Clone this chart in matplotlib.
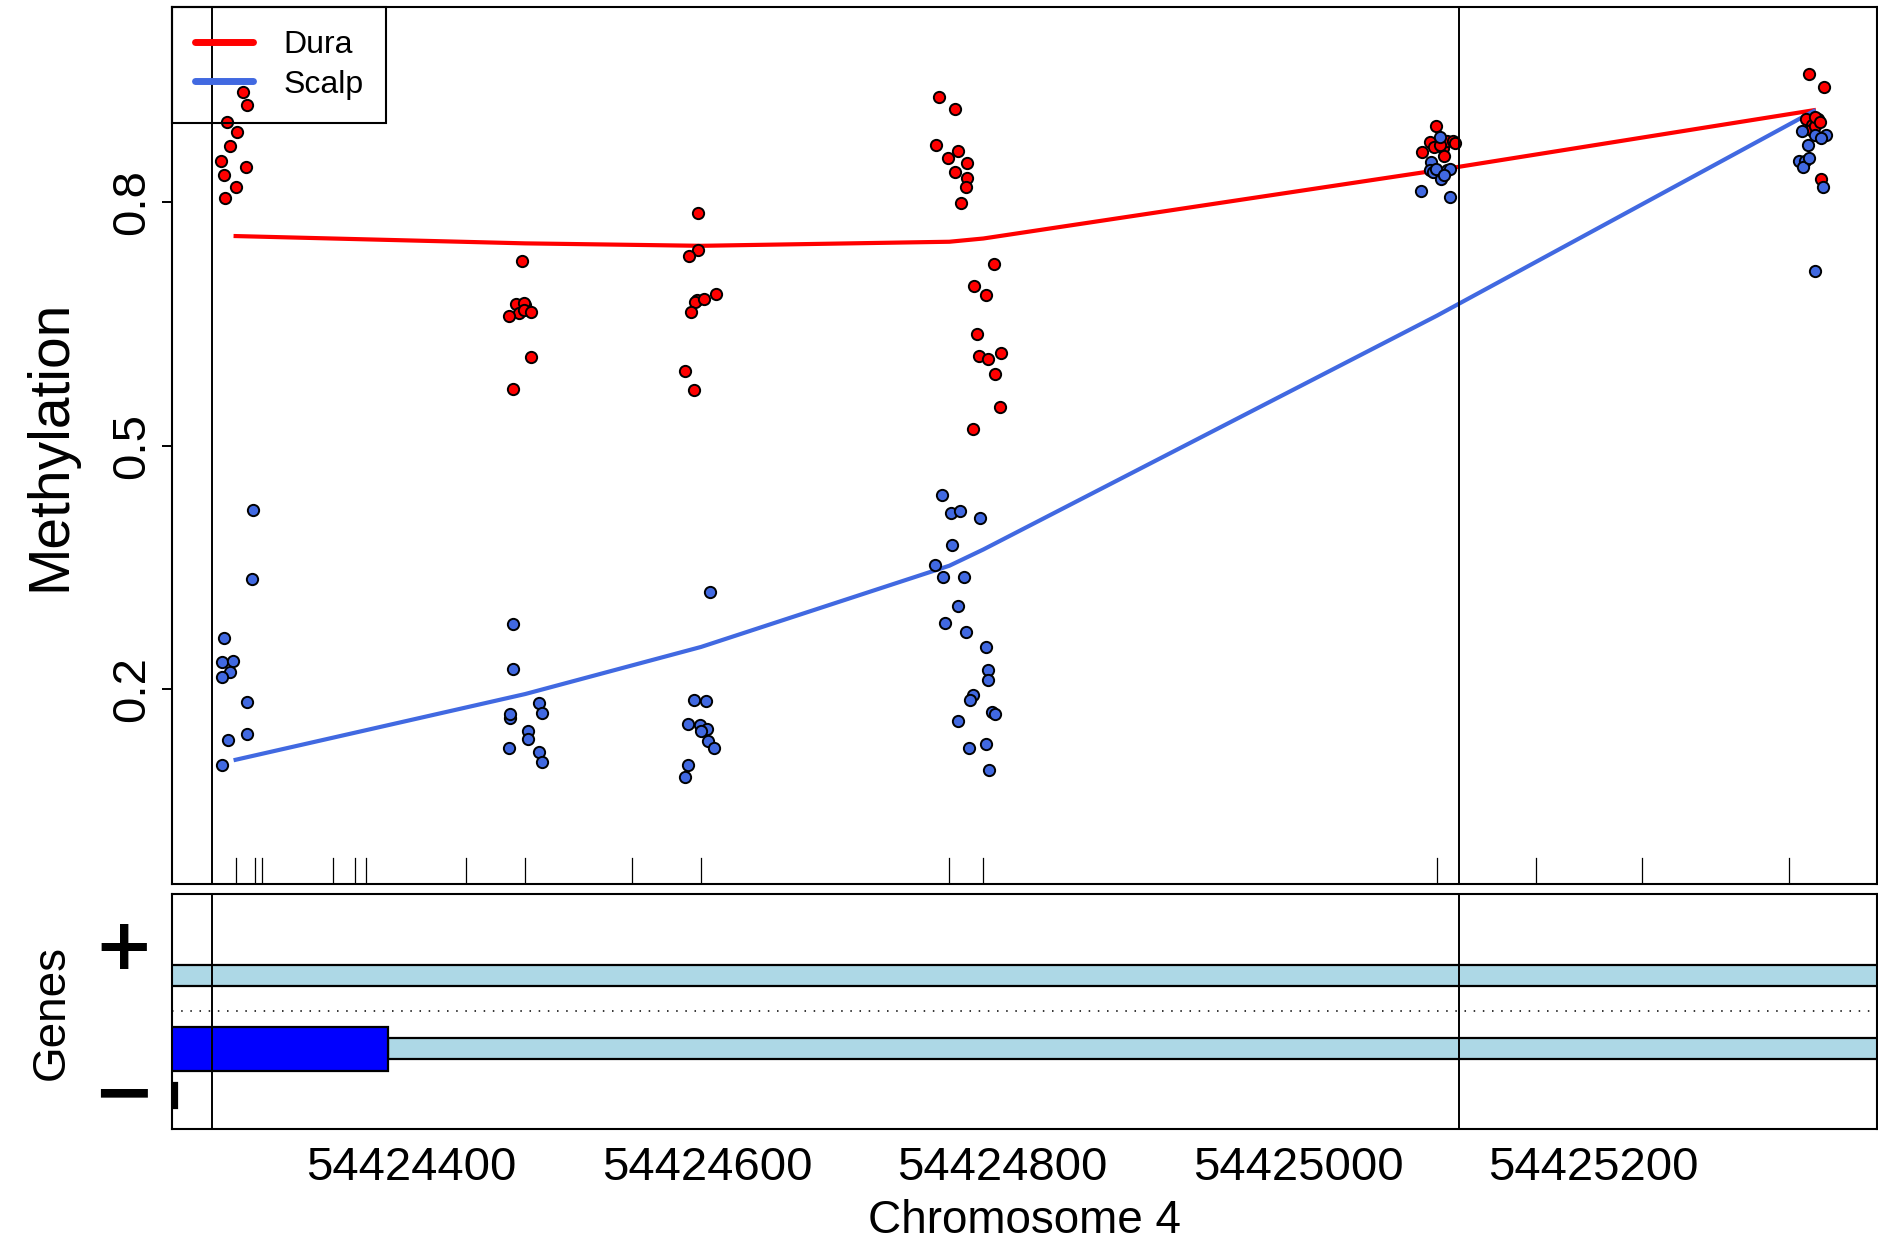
"""DMR plot: Dura vs Scalp methylation with gene track."""

import matplotlib

matplotlib.use("Agg")
import matplotlib.pyplot as plt
import matplotlib.transforms as mtransforms
from matplotlib.lines import Line2D
from matplotlib.patches import Rectangle

plt.rcParams["font.family"] = ["Liberation Sans", "DejaVu Sans"]

BASE = 54424000

# smoothed group means at the probe positions (bp offset from BASE)
probe_pos = [281, 477, 596, 764, 787, 1094, 1349]
dura_mean = [0.758, 0.749, 0.746, 0.751, 0.755, 0.839, 0.913]
scalp_mean = [0.113, 0.194, 0.252, 0.352, 0.372, 0.660, 0.912]

# individual samples (jittered positions, bp offset from BASE)
dura_x = [286, 289, 275, 282, 277, 271, 288, 273, 281, 274,
          475, 471, 477, 476, 473, 476, 481, 466, 481, 469,
          594, 594, 588, 593, 592, 598, 606, 589, 585, 591,
          757, 768, 755, 763, 770, 776, 768, 776, 775, 772,
          794, 781, 789, 783, 784, 790, 799, 795, 798, 780,
          1093, 1089, 1092, 1098, 1101, 1105, 1106, 1084, 1099, 1096,
          1346, 1356, 1352, 1344, 1348, 1347, 1350, 1354, 1350, 1353]
dura_y = [0.935, 0.920, 0.899, 0.886, 0.869, 0.850, 0.843, 0.833, 0.818, 0.805,
          0.727, 0.674, 0.673, 0.676, 0.663, 0.667, 0.665, 0.659, 0.609, 0.570,
          0.786, 0.741, 0.733, 0.679, 0.677, 0.680, 0.687, 0.664, 0.592, 0.569,
          0.929, 0.914, 0.870, 0.854, 0.863, 0.848, 0.837, 0.829, 0.818, 0.799,
          0.723, 0.697, 0.685, 0.638, 0.610, 0.606, 0.614, 0.588, 0.548, 0.521,
          0.893, 0.874, 0.868, 0.866, 0.875, 0.875, 0.873, 0.861, 0.857, 0.870,
          0.957, 0.941, 0.902, 0.902, 0.895, 0.889, 0.893, 0.828, 0.905, 0.899]

scalp_x = [293, 292, 273, 272, 279, 277, 272, 289, 276, 289, 272,
           469, 469, 467, 467, 486, 488, 479, 479, 466, 486, 488,
           602, 591, 599, 587, 595, 600, 596, 601, 605, 587, 585,
           759, 765, 771, 754, 760, 774, 770, 761, 775, 770, 777,
           785, 766, 789, 790, 790, 780, 778, 793, 795, 789, 791,
           1096, 1090, 1089, 1091, 1101, 1097, 1083, 1103, 1103, 1093, 1099,
           1341, 1350, 1357, 1354, 1345, 1339, 1343, 1342, 1355, 1350, 1346]
scalp_y = [0.421, 0.336, 0.263, 0.233, 0.235, 0.221, 0.215, 0.184, 0.137, 0.145, 0.107,
           0.280, 0.225, 0.165, 0.169, 0.183, 0.171, 0.149, 0.138, 0.128, 0.122, 0.110,
           0.320, 0.187, 0.186, 0.157, 0.156, 0.151, 0.148, 0.136, 0.128, 0.106, 0.092,
           0.439, 0.417, 0.420, 0.353, 0.338, 0.338, 0.302, 0.282, 0.270, 0.161, 0.127,
           0.411, 0.378, 0.252, 0.224, 0.211, 0.193, 0.187, 0.172, 0.170, 0.133, 0.101,
           0.880, 0.849, 0.839, 0.837, 0.839, 0.828, 0.814, 0.806, 0.841, 0.841, 0.833,
           0.887, 0.882, 0.883, 0.879, 0.870, 0.851, 0.850, 0.843, 0.819, 0.715, 0.854]

cpg_pos = [281, 294, 299, 347, 362, 369, 437, 477, 549, 596,
           764, 787, 1094, 1161, 1233, 1332]
dmr_bounds = [265, 1109]

x_ticks = [54424400, 54424600, 54424800, 54425000, 54425200]
y_ticks = [0.2, 0.5, 0.8]

# gene track features: (start, end, ybottom, ytop, fill)
gene_parts = [
    (0, 1600, 0.217, 0.396, "lightblue"),
    (384, 1600, -0.406, -0.223, "lightblue"),
    (0, 384, -0.506, -0.132, "blue"),
    (230, 241, -0.821, -0.609, "black"),
]

DURA_COL = "red"
SCALP_COL = "royalblue"


def _abs(vals):
    return [BASE + v for v in vals]


fig = plt.figure(figsize=(18.78, 12.43), dpi=100)
ax = fig.add_axes([0.09185, 0.2888, 0.9076, 0.7055])
gx = fig.add_axes([0.09185, 0.0917, 0.9076, 0.1891])

span = probe_pos[-1] - probe_pos[0]
xlim = (BASE + probe_pos[0] - 0.04 * span, BASE + probe_pos[-1] + 0.04 * span)

ax.plot(_abs(probe_pos), dura_mean, color=DURA_COL, lw=3.0, zorder=2)
ax.plot(_abs(probe_pos), scalp_mean, color=SCALP_COL, lw=3.0, zorder=2)
ax.scatter(_abs(dura_x), dura_y, s=66, c=DURA_COL, edgecolors="black",
           linewidths=1.4, zorder=3)
ax.scatter(_abs(scalp_x), scalp_y, s=66, c=SCALP_COL, edgecolors="black",
           linewidths=1.4, zorder=3)

trans = mtransforms.blended_transform_factory(ax.transData, ax.transAxes)
for p in cpg_pos:
    ax.plot([BASE + p, BASE + p], [0, 0.03], color="black", lw=0.9,
            transform=trans, zorder=1)

for a in (ax, gx):
    for b in dmr_bounds:
        a.axvline(BASE + b, color="black", lw=1.4, zorder=4)
    a.set_xlim(xlim)
    for s in a.spines.values():
        s.set_linewidth(1.5)

ax.set_ylim(-0.04, 1.04)
ax.set_yticks(y_ticks)
ax.set_yticklabels([f"{t:.1f}" for t in y_ticks])
ax.tick_params(axis="y", labelsize=34, length=7, width=1.4, pad=6,
               labelrotation=90)
for lab in ax.get_yticklabels():
    lab.set_va("center")
ax.set_xticks([])

handles = [Line2D([], [], color=DURA_COL, lw=5, solid_capstyle="round"),
           Line2D([], [], color=SCALP_COL, lw=5, solid_capstyle="round")]
leg = ax.legend(handles, ["Dura", "Scalp"], loc="upper left",
                bbox_to_anchor=(0, 1), borderaxespad=0, fontsize=23,
                fancybox=False, framealpha=1, facecolor="none",
                edgecolor="black", borderpad=0.72, labelspacing=0.3,
                handlelength=1.8, handletextpad=0.95)
leg.get_frame().set_linewidth(1.5)
leg.set_zorder(5)

# gene track
for start, end, y0, y1, fill in gene_parts:
    gx.add_patch(Rectangle((BASE + start, y0), end - start, y1 - y0,
                           facecolor=fill, edgecolor="black", lw=1.6,
                           zorder=2))
gx.axhline(0, color="black", lw=1.1, linestyle=(0, (1, 5)), zorder=1)
gx.set_ylim(-1, 1)
gx.set_yticks([])
gx.set_xticks(x_ticks)
gx.set_xticklabels([str(t) for t in x_ticks])
gx.tick_params(axis="x", labelsize=34, length=0, pad=12)

gx.text(-0.0285, 0.53, "+", transform=gx.get_yaxis_transform(),
        ha="center", va="center", fontsize=52, fontweight="bold",
        family="DejaVu Sans")
gx.text(-0.0285, -0.72, "\u2212", transform=gx.get_yaxis_transform(),
        ha="center", va="center", fontsize=54, fontweight="bold",
        family="DejaVu Sans")

fig.text(0.0266, 0.6416, "Methylation", rotation=90, ha="center",
         va="center", fontsize=41)
fig.text(0.0275, 0.1858, "Genes", rotation=90, ha="center", va="center",
         fontsize=33)
fig.text(0.5456, 0.0175, "Chromosome 4", ha="center", va="center",
         fontsize=33)

fig.savefig("out.png", dpi=100)
